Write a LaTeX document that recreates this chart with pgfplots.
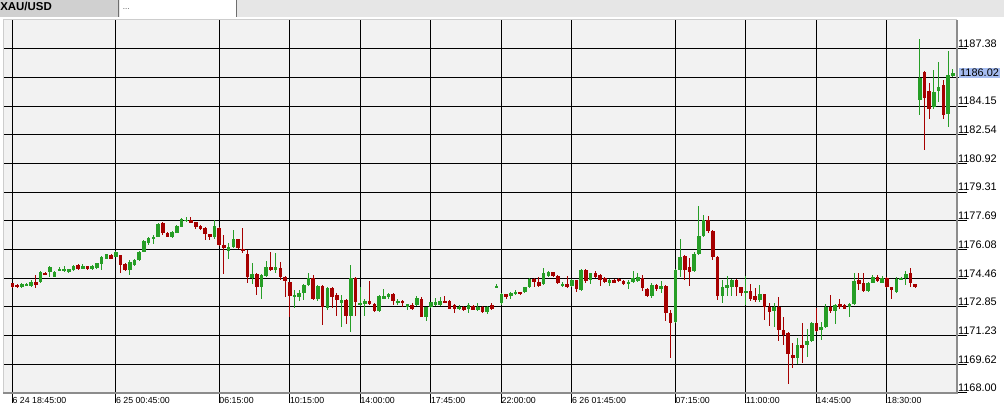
\documentclass[border=0pt]{standalone}
\usepackage{pgfplots}
\pgfplotsset{compat=1.18}
\usepackage{pgfplotstable}
\usepackage{fontspec}
\setmainfont{Liberation Sans}
\definecolor{cgreen}{RGB}{38,158,38}
\definecolor{cred}{RGB}{166,0,0}
\definecolor{plotbg}{RGB}{242,242,242}
\definecolor{tabgray}{RGB}{208,208,208}
\definecolor{tabrest}{RGB}{230,230,230}
\definecolor{sepgray}{RGB}{110,110,110}
\definecolor{lightframe}{RGB}{205,205,205}
\definecolor{darkframe}{RGB}{140,140,140}
\definecolor{hl}{RGB}{165,188,240}

\pgfplotstableread{
i o h l c
2 1173.99 1174.23 1173.93 1174.14
3 1174.05 1174.18 1174.01 1174.14
4 1174.03 1174.37 1173.95 1174.27
6 1174.27 1174.89 1174.18 1174.84
8 1174.84 1175.15 1174.55 1175.12
9 1174.55 1174.87 1174.52 1174.84
10 1174.89 1175.08 1174.85 1175.02
11 1174.85 1175.15 1174.84 1174.97
12 1174.80 1175.00 1174.76 1174.97
13 1174.93 1175.19 1174.89 1175.15
15 1175.00 1175.27 1174.97 1175.15
17 1174.97 1175.21 1174.93 1175.17
18 1175.04 1175.34 1175.00 1175.31
19 1175.27 1175.72 1174.93 1175.68
20 1175.57 1175.85 1175.53 1175.81
22 1175.68 1176.02 1175.64 1175.96
25 1174.93 1175.49 1174.65 1175.40
26 1175.21 1175.53 1175.17 1175.49
27 1175.49 1176.00 1175.45 1175.96
28 1175.96 1176.62 1175.92 1176.58
29 1176.47 1176.81 1176.34 1176.77
30 1176.66 1176.90 1176.43 1176.81
31 1176.81 1177.56 1176.77 1177.52
34 1176.77 1177.13 1176.73 1177.09
35 1177.03 1177.45 1176.99 1177.41
36 1177.37 1177.88 1177.33 1177.78
37 1177.71 1177.90 1177.65 1177.78
43 1176.77 1177.78 1176.71 1177.41
46 1176.02 1176.47 1175.55 1176.24
47 1176.21 1177.18 1176.15 1176.66
51 1174.50 1175.34 1174.14 1174.74
53 1173.99 1174.69 1173.28 1174.65
54 1174.61 1175.46 1174.55 1175.08
56 1174.93 1175.91 1174.78 1175.08
60 1173.39 1173.80 1172.81 1173.52
61 1173.43 1173.80 1173.20 1173.65
62 1173.65 1174.14 1173.24 1174.08
63 1174.08 1174.74 1174.03 1174.46
65 1173.28 1174.07 1173.20 1174.03
67 1172.77 1173.99 1172.71 1173.93
70 1173.09 1173.52 1171.74 1173.24
72 1172.34 1175.21 1171.45 1174.46
74 1172.96 1173.99 1172.90 1173.09
75 1173.05 1173.33 1172.34 1173.20
78 1172.62 1173.52 1172.58 1173.46
79 1173.31 1173.84 1173.28 1173.46
80 1173.39 1173.65 1173.28 1173.58
82 1173.09 1173.28 1172.96 1173.20
84 1172.83 1173.05 1172.68 1173.01
86 1172.96 1173.46 1172.90 1173.33
88 1172.30 1172.86 1172.07 1172.83
89 1172.83 1173.15 1172.77 1173.11
90 1172.96 1173.33 1172.90 1173.15
91 1172.96 1173.39 1172.90 1173.20
95 1172.73 1172.96 1172.68 1172.86
97 1172.73 1173.09 1172.49 1172.96
99 1172.68 1173.09 1172.64 1172.86
101 1172.58 1172.90 1172.49 1172.83
103 1173.93 1174.14 1173.93 1174.05
104 1173.09 1173.61 1172.96 1173.58
106 1173.46 1173.71 1173.31 1173.65
107 1173.56 1173.80 1173.52 1173.71
109 1173.71 1173.99 1173.65 1173.95
110 1173.95 1174.46 1173.90 1174.42
113 1174.14 1175.02 1174.08 1174.74
114 1174.59 1174.89 1174.55 1174.84
117 1174.03 1174.27 1173.95 1174.14
119 1174.05 1174.40 1173.99 1174.37
121 1173.80 1174.97 1173.76 1174.93
123 1174.37 1174.78 1174.14 1174.74
127 1174.18 1174.40 1174.05 1174.37
131 1174.12 1174.37 1173.84 1174.27
132 1174.27 1174.89 1174.23 1174.46
133 1174.33 1174.74 1174.27 1174.52
136 1173.46 1174.18 1173.33 1174.08
138 1173.84 1174.33 1173.65 1174.03
141 1172.02 1174.97 1171.96 1174.93
142 1174.93 1176.66 1174.52 1175.68
145 1174.89 1175.96 1174.84 1175.83
146 1175.83 1178.50 1175.78 1176.85
147 1176.85 1178.03 1176.81 1177.75
151 1173.47 1174.37 1173.05 1173.99
152 1173.90 1174.59 1173.47 1174.08
153 1173.99 1174.40 1173.47 1174.37
156 1173.62 1174.59 1172.96 1173.77
159 1173.24 1174.08 1173.15 1173.58
162 1172.64 1173.09 1171.74 1172.83
167 1169.95 1171.08 1169.64 1170.70
169 1170.70 1171.59 1170.01 1170.95
170 1170.95 1172.02 1170.89 1171.96
172 1171.55 1172.02 1170.98 1171.74
173 1171.74 1173.05 1171.70 1172.86
175 1172.64 1173.01 1171.89 1172.96
178 1172.86 1173.09 1172.26 1173.01
179 1173.01 1174.74 1172.96 1174.33
182 1173.77 1174.27 1173.71 1174.18
183 1174.22 1174.65 1174.18 1174.52
185 1174.22 1174.59 1174.18 1174.46
188 1173.71 1174.52 1173.65 1174.46
189 1174.40 1174.52 1174.35 1174.46
190 1174.46 1174.89 1174.08 1174.70
193 1184.51 1187.94 1183.66 1185.73
196 1184.10 1186.20 1183.98 1184.92
197 1185.03 1186.63 1184.36 1185.26
199 1183.72 1187.28 1183.00 1185.92
200 1185.86 1186.24 1185.82 1186.02
}\greendata

\pgfplotstableread{
i o h l c
0 1174.18 1174.22 1173.95 1173.99
1 1174.08 1174.14 1173.92 1173.95
5 1174.27 1174.65 1173.93 1174.10
7 1174.78 1174.82 1174.63 1174.67
14 1175.21 1175.25 1174.93 1174.97
16 1175.15 1175.17 1174.93 1174.97
21 1175.79 1175.83 1175.53 1175.57
23 1175.77 1175.80 1174.78 1175.21
24 1175.27 1175.34 1174.89 1174.93
32 1177.60 1177.65 1176.90 1177.03
33 1177.03 1177.07 1176.77 1176.81
38 1177.75 1177.90 1177.60 1177.60
39 1177.65 1177.65 1177.22 1177.37
40 1177.43 1177.46 1177.20 1177.24
41 1177.31 1177.37 1176.62 1176.96
42 1176.96 1176.96 1176.62 1176.81
44 1177.31 1177.35 1176.30 1176.34
45 1176.34 1176.90 1174.70 1176.19
48 1176.66 1176.69 1176.11 1176.15
49 1176.15 1177.28 1175.87 1176.02
50 1175.83 1176.06 1174.18 1174.55
52 1174.70 1174.74 1173.52 1173.99
55 1175.08 1175.96 1174.89 1174.93
57 1175.08 1175.40 1174.37 1174.55
58 1174.55 1174.59 1173.39 1174.33
59 1174.27 1174.27 1172.30 1173.46
64 1174.46 1174.65 1173.24 1173.28
66 1174.03 1174.07 1171.83 1172.83
68 1173.93 1173.99 1172.81 1173.43
69 1173.52 1173.61 1172.34 1173.24
71 1173.24 1173.33 1171.89 1172.34
73 1174.46 1174.52 1172.34 1173.15
76 1173.20 1174.33 1172.98 1173.01
77 1173.01 1173.09 1172.58 1172.62
81 1173.58 1173.61 1172.96 1173.20
83 1173.18 1173.24 1172.83 1173.05
85 1172.96 1173.09 1172.68 1172.77
87 1173.33 1173.39 1172.26 1172.30
92 1173.20 1173.46 1173.05 1173.09
93 1173.20 1173.24 1172.73 1172.77
94 1172.96 1173.00 1172.49 1172.73
96 1172.86 1172.90 1172.64 1172.68
98 1172.90 1172.96 1172.68 1172.71
100 1172.86 1172.90 1172.53 1172.58
102 1172.96 1173.09 1172.68 1172.73
105 1173.58 1173.61 1173.31 1173.39
108 1173.67 1173.71 1173.52 1173.56
111 1174.42 1174.46 1173.95 1174.27
112 1174.27 1174.52 1173.99 1174.05
115 1174.80 1174.84 1174.55 1174.61
116 1174.59 1174.65 1174.14 1174.18
118 1174.14 1174.59 1173.90 1173.95
120 1174.37 1174.40 1173.71 1173.84
122 1174.93 1174.97 1174.22 1174.33
124 1174.74 1174.89 1174.46 1174.55
125 1174.65 1174.70 1174.03 1174.37
126 1174.50 1174.55 1174.23 1174.27
128 1174.37 1174.40 1174.18 1174.22
129 1174.42 1174.46 1174.27 1174.31
130 1174.33 1174.40 1174.07 1174.12
134 1174.46 1174.65 1173.76 1173.90
135 1173.84 1173.90 1173.43 1173.46
137 1174.08 1174.12 1173.76 1173.84
139 1174.03 1174.07 1172.09 1172.53
140 1172.53 1172.64 1169.95 1171.96
143 1175.74 1175.77 1174.37 1174.93
144 1175.12 1175.59 1174.03 1174.84
148 1177.75 1177.97 1177.00 1177.15
149 1177.15 1177.18 1175.49 1175.68
150 1175.68 1175.72 1173.24 1173.47
154 1174.37 1174.40 1173.47 1173.99
155 1173.95 1173.99 1173.47 1173.62
157 1173.71 1174.14 1173.20 1173.28
158 1173.47 1173.90 1173.09 1173.24
160 1173.58 1173.61 1172.11 1172.83
161 1172.83 1173.05 1171.77 1172.58
163 1172.83 1173.39 1170.95 1171.55
164 1171.55 1172.30 1170.70 1171.27
165 1171.36 1171.45 1168.51 1170.20
166 1170.14 1170.80 1169.42 1169.95
168 1170.70 1171.92 1169.67 1170.57
171 1171.96 1172.77 1171.45 1171.51
174 1172.86 1173.52 1172.49 1172.64
176 1173.01 1173.28 1172.71 1172.83
177 1172.96 1173.00 1172.71 1172.77
180 1174.37 1174.74 1173.80 1174.14
181 1174.22 1174.74 1173.71 1173.77
184 1174.52 1174.63 1174.27 1174.33
186 1174.46 1174.52 1173.90 1173.95
187 1173.95 1173.99 1173.28 1173.80
191 1174.74 1175.03 1173.99 1174.21
192 1174.12 1174.15 1173.92 1173.95
194 1186.10 1186.15 1181.69 1184.60
195 1184.98 1185.45 1183.42 1183.98
198 1185.35 1185.63 1183.42 1183.66
}\reddata

\pgfplotsset{
  wick/.style={draw=none, no markers, forget plot,
    error bars/.cd, y dir=both, y explicit, error mark=none,
    error bar style={draw=#1, solid, line width=0.75pt}},
  body/.style={draw=none, no markers, forget plot,
    error bars/.cd, y dir=both, y explicit, error mark=none,
    error bar style={draw=#1, solid, line width=2.7pt}},
}

\begin{document}
\begin{tikzpicture}
\path[use as bounding box, fill=white] (0,0) rectangle (753pt,312pt);
% tab bar
\fill[tabrest] (0,299.25pt) rectangle (753pt,312pt);
\fill[tabgray] (0,299.25pt) rectangle (88.5pt,312pt);
\fill[white] (90pt,299.25pt) rectangle (177pt,312pt);
\draw[sepgray, line width=1pt] (89.1pt,299.25pt) -- (89.1pt,312pt);
\draw[sepgray, line width=1pt] (177.6pt,299.25pt) -- (177.6pt,312pt);
\node[anchor=west, inner sep=0pt, font=\bfseries\fontsize{8.6}{10}\selectfont] at (0pt,307.2pt) {XAU/USD};
\node[anchor=base west, inner sep=0pt, font=\fontsize{6}{7}\selectfont, text=black!70] at (92pt,304.6pt) {...};

\begin{axis}[
  at={(2.25pt,17.25pt)}, anchor=south west,
  width=715.5pt, height=279.75pt, scale only axis,
  xmin=-1.98, xmax=200.9, ymin=1168, ymax=1189,
  axis background/.style={fill=plotbg},
  axis line style={draw=none},
  clip=false,
  grid=major, major grid style={black, line width=0.75pt},
  xtick={0,22,44,59,74,89,104,119,141,156,171,186},
  xticklabels={6 24 18:45:00,6 25 00:45:00,06:15:00,10:15:00,14:00:00,17:45:00,22:00:00,6 26 01:45:00,07:15:00,11:00:00,14:45:00,18:30:00},
  ytick={1168,1169.6154,1171.2308,1172.8462,1174.4615,1176.0769,1177.6923,1179.3077,1180.9231,1182.5385,1184.1538,1185.7692,1187.3846},
  yticklabels={1168.00,1169.62,1171.23,1172.85,1174.46,1176.08,1177.69,1179.31,1180.92,1182.54,1184.15,,1187.38},
  xtick pos=left, ytick pos=right, yticklabel pos=right,
  tick align=outside, major tick length=7.5pt,
  tick style={black, line width=0.75pt},
  xticklabel style={anchor=north west, inner sep=0pt, yshift=4.5pt, font=\fontsize{6.6}{7.5}\selectfont, text=black},
  yticklabel style={anchor=south west, inner sep=0pt, xshift=-6.9pt, yshift=0.6pt, font=\fontsize{8.2}{9.5}\selectfont, text=black},
]
\addplot[wick=cred] table[x=i, y expr={(\thisrow{h}+\thisrow{l})/2}, y error expr={(\thisrow{h}-\thisrow{l})/2}] {\reddata};
\addplot[body=cred] table[x=i, y expr={(\thisrow{o}+\thisrow{c})/2}, y error expr={abs(\thisrow{o}-\thisrow{c})/2}] {\reddata};
\addplot[wick=cgreen] table[x=i, y expr={(\thisrow{h}+\thisrow{l})/2}, y error expr={(\thisrow{h}-\thisrow{l})/2}] {\greendata};
\addplot[body=cgreen] table[x=i, y expr={(\thisrow{o}+\thisrow{c})/2}, y error expr={abs(\thisrow{o}-\thisrow{c})/2}] {\greendata};
\draw[lightframe, line width=0.75pt] (rel axis cs:0,0) -- (rel axis cs:0,1) -- (rel axis cs:1,1);
\draw[darkframe, line width=1.6pt] (rel axis cs:1,1) -- (rel axis cs:1,0) -- (rel axis cs:0,0);
\node[fill=hl, anchor=west, inner sep=0.8pt, font=\fontsize{8.2}{9.5}\selectfont] at (axis cs:201.3,1186.02) {1186.02};
\end{axis}
\end{tikzpicture}
\end{document}
